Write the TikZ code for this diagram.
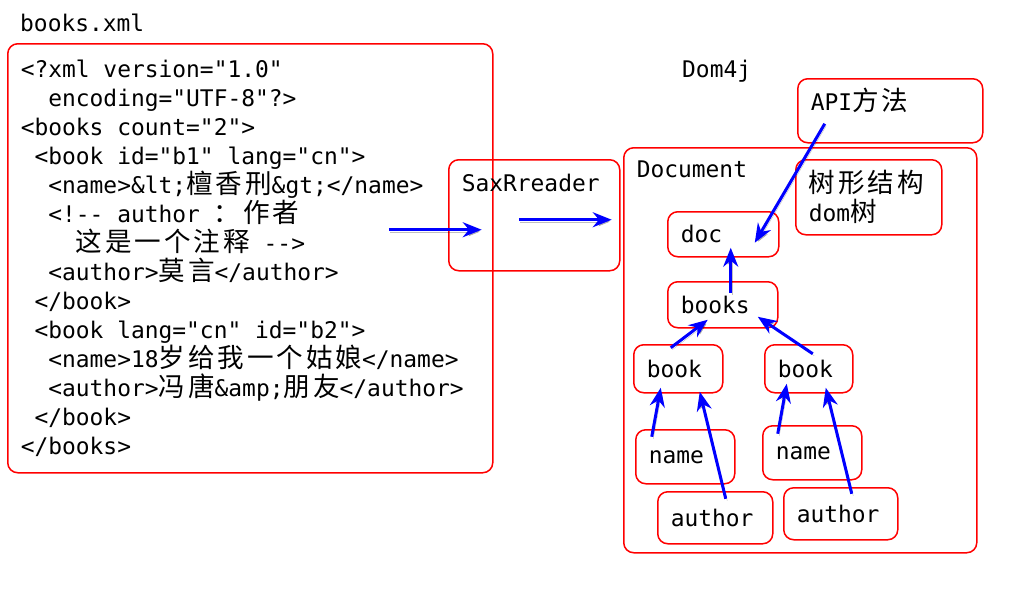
\documentclass[tikz,border=0pt]{standalone}
\usepackage{fontspec}
\setmonofont{DejaVu Sans Mono}
\newfontfamily\cjkfont{Noto Sans CJK SC}[Scale=1.16,LetterSpace=11]
\usetikzlibrary{arrows.meta,calc}
\newcommand\zh[1]{{\cjkfont #1}}
\newcommand\indsp[1]{\hspace*{#1\fontcharwd\font`\x}}
% full-width spaces in aligned nodes
\newcommand\monospaces{\spaceskip=\fontcharwd\font`\x\relax \xspaceskip=\spaceskip}
\tikzset{
  box/.style={draw=red, line width=1.5pt, rounded corners=10pt, anchor=north west, align=left, inner xsep=13pt, inner ysep=0pt},
  txt/.style={inner sep=0pt, anchor=base west},
  link/.style={draw=blue, line width=3pt, -{Stealth[length=19pt,width=15pt]},
    preaction={draw=black, opacity=.25, transform canvas={shift={(1.5pt,-2pt)}}}}
}
\begin{document}
\begin{tikzpicture}[x=1pt, y=-1pt, font=\ttfamily\fontsize{22.9}{29}\selectfont]
                \useasboundingbox (0,0) rectangle (1024,592);

                % the xml file
                \node[txt] (fname) at (20,31) {books.xml};
                \node[box, text width=459, minimum height=429] (xml) at (7,43) {\monospaces
                  <?xml version="1.0"\\
                  \indsp{2}encoding="UTF-8"?>\\
                  <books count="2">\\
                  \indsp{1}<book id="b1" lang="cn">\\
                  \indsp{2}<name>\&lt;\zh{檀香刑}\&gt;</name>\\
                  \indsp{2}<!-- author \zh{：作者}\\
                  \indsp{4}\zh{这是一个注释} -->\\
                  \indsp{2}<author>\zh{莫言}</author>\\
                  \indsp{1}</book>\\
                  \indsp{1}<book lang="cn" id="b2">\\
                  \indsp{2}<name>18\zh{岁给我一个姑娘}</name>\\
                  \indsp{2}<author>\zh{冯唐}\&amp;\zh{朋友}</author>\\
                  \indsp{1}</book>\\
                  </books>};

                % reader
                \node[box, text width=145, text height=32, text depth=79] (sax) at (448,159) {SaxRreader};

                % dom4j side
                \node[txt] (dom4j) at (682,77) {Dom4j};
                \node[box, text width=159, text height=32, text depth=32] (api) at (797,78) {API\zh{方法}};
                \node[box, text width=327, text height=30, text depth=375] (document) at (623,147) {Document};
                \node[box, text width=120, minimum height=75] (tree) at (795,159) {\zh{树形结构}\\dom\zh{树}};

                \node[box, text width=85, minimum height=45] (doc) at (667,211) {doc};
                \node[box, text width=84, minimum height=46] (books) at (667,281) {books};
                \node[box, text width=63, minimum height=48] (bookA) at (633,344) {book};
                \node[box, text width=62, minimum height=48] (bookB) at (764,344) {book};
                \node[box, text width=73, minimum height=54] (nameA) at (635,429) {name};
                \node[box, text width=73, minimum height=54] (nameB) at (762,425) {name};
                \node[box, text width=89, minimum height=52] (authorA) at (657,491) {author};
                \node[box, text width=88, minimum height=52] (authorB) at (783,487) {author};

                % arrows
                \draw[link] ($(xml)+(138.5,-28.5)$) -- ($(sax)+(-52.5,14.5)$);
                \draw[link] ($(sax)+(-15.5,4.5)$) -- ($(sax)+(77.5,4.5)$);
                \draw[link] ($(api)+(-65.5,13)$) -- ($(doc)+(31.5,8.5)$);
                \draw[link] ($(books)+(8,-12)$) -- ($(doc)+(7.5,13.5)$);
                \draw[link] ($(bookA)+(-7.5,-21)$) -- ($(books)+(-15,15)$);
                \draw[link] ($(bookB)+(4,-15)$) -- ($(books)+(35,12)$);
                \draw[link] ($(nameA)+(-33.5,-20)$) -- ($(bookA)+(-17.5,19)$);
                \draw[link] ($(authorA)+(10.5,-19)$) -- ($(bookA)+(21.5,23)$);
                \draw[link] ($(nameB)+(-34.5,-19)$) -- ($(bookB)+(-22,15)$);
                \draw[link] ($(authorB)+(11,-20)$) -- ($(bookB)+(17,19)$);
\end{tikzpicture}
\end{document}
